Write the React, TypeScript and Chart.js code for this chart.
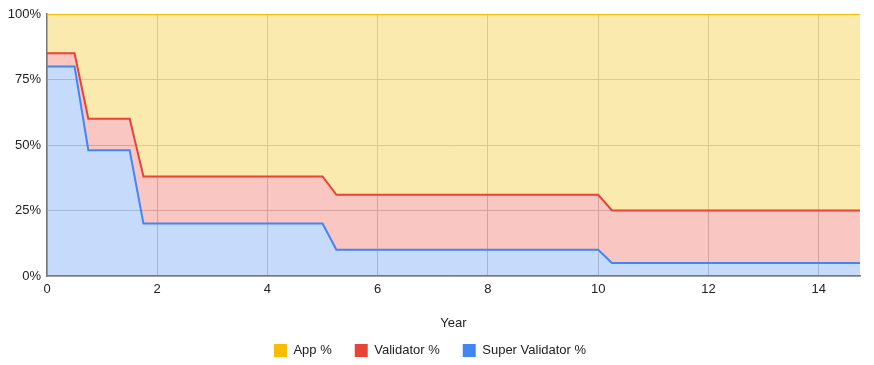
import React, { useEffect, useRef } from "react";
import { Chart, registerables } from "chart.js";

Chart.register(...registerables);

const years = [0, 0.5, 0.75, 1.5, 1.75, 5, 5.25, 10, 10.25, 14.75];
const superValidatorPct = [80, 80, 48, 48, 20, 20, 10, 10, 5, 5];
const validatorPct = [5, 5, 12, 12, 18, 18, 21, 21, 20, 20];
const appPct = [15, 15, 40, 40, 62, 62, 69, 69, 75, 75];
const xTickValues = [0, 2, 4, 6, 8, 10, 12, 14];
const yTickValues = [0, 25, 50, 75, 100];

const FONT = "'Liberation Sans', Arial, sans-serif";

export default function App() {
  const ref = useRef<HTMLCanvasElement | null>(null);

  useEffect(() => {
    if (!ref.current) return;
    const mk = (vals: number[]) => vals.map((v, i) => ({ x: years[i], y: v }));
    const chart = new Chart(ref.current, {
      type: "line",
      data: {
        datasets: [
          {
            label: "Super Validator %",
            data: mk(superValidatorPct),
            borderColor: "#4285f4",
            backgroundColor: "rgba(66,133,244,0.3)",
            fill: "origin",
            borderWidth: 2,
            pointRadius: 0,
            tension: 0,
          },
          {
            label: "Validator %",
            data: mk(validatorPct),
            borderColor: "#ea4335",
            backgroundColor: "rgba(234,67,53,0.3)",
            fill: "-1",
            borderWidth: 2,
            pointRadius: 0,
            tension: 0,
          },
          {
            label: "App %",
            data: mk(appPct),
            borderColor: "#fbbc04",
            backgroundColor: "rgba(244,200,40,0.38)",
            fill: "-1",
            borderWidth: 2,
            pointRadius: 0,
            tension: 0,
          },
        ],
      },
      options: {
        animation: false,
        responsive: false,
        maintainAspectRatio: false,
        layout: { padding: { left: 0, right: 14, top: 14, bottom: -2 } },
        plugins: {
          legend: {
            position: "bottom",
            reverse: true,
            labels: {
              boxWidth: 13,
              boxHeight: 13,
              padding: 23,
              color: "#222",
              font: { family: FONT, size: 13 },
              generateLabels: (c: any) => {
                const items = Chart.defaults.plugins.legend.labels.generateLabels(c);
                return items.map((it: any) => ({
                  ...it,
                  fillStyle: c.data.datasets[it.datasetIndex].borderColor,
                  strokeStyle: c.data.datasets[it.datasetIndex].borderColor,
                  lineWidth: 0,
                }));
              },
            },
          },
          tooltip: { enabled: false },
        },
        scales: {
          x: {
            type: "linear",
            min: 0,
            max: 14.75,
            afterBuildTicks: (s: any) => {
              s.ticks = xTickValues.map((v) => ({ value: v }));
            },
            afterFit: (s: any) => {
              s.height = 45;
            },
            ticks: {
              color: "#222",
              font: { family: FONT, size: 13 },
              padding: 6,
              maxRotation: 0,
            },
            grid: { color: "#cccccc", drawTicks: false },
            border: { color: "#777", width: 1.5 },
            title: {
              display: true,
              text: "Year",
              color: "#222",
              font: { family: FONT, size: 13 },
              padding: { top: 0, bottom: -10 },
            },
          },
          y: {
            stacked: true,
            min: 0,
            max: 100,
            afterBuildTicks: (s: any) => {
              s.ticks = yTickValues.map((v) => ({ value: v }));
            },
            afterFit: (s: any) => {
              s.width = 47;
            },
            ticks: {
              color: "#222",
              font: { family: FONT, size: 13 },
              padding: 6,
              callback: (v: any) => v + "%",
            },
            grid: { color: "#cccccc", drawTicks: false },
            border: { color: "#777", width: 1.5 },
          },
        },
      },
    });
    return () => chart.destroy();
  }, []);

  return (
    <div style={{ position: "fixed", left: 0, top: 0, width: 874, height: 365, background: "#fff" }}>
      <canvas ref={ref} width={874} height={365} style={{ width: 874, height: 365 }} />
    </div>
  );
}
